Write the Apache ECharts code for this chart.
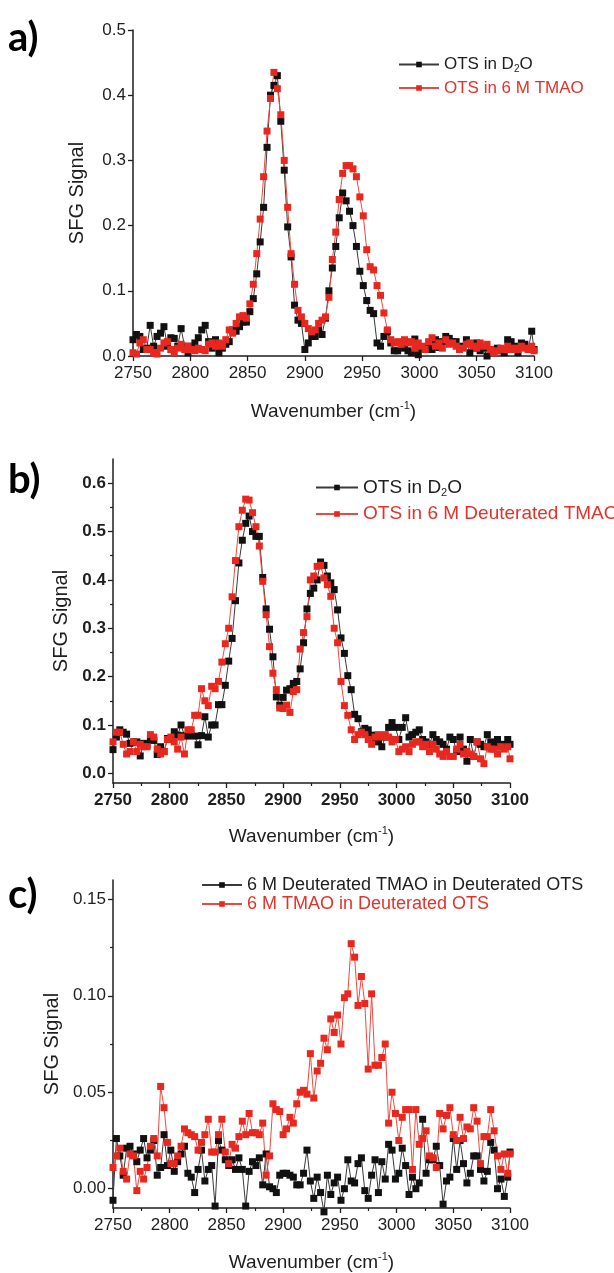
<!DOCTYPE html>
<html><head><meta charset="utf-8">
<script src="https://cdn.jsdelivr.net/npm/echarts@6/dist/echarts.min.js"></script>
<style>html,body{margin:0;padding:0;background:#fff}#c{width:614px;height:1273px}</style>
</head><body><div id="c"></div>
<script>
// ---------- data ----------
const wavenumbers = [
2750,2753,2756,2759,2762,2765,2768,2771,2774,2777,
2780,2783,2786,2789,2792,2795,2798,2801,2804,2807,
2810,2813,2816,2819,2822,2825,2828,2831,2834,2837,
2840,2843,2846,2849,2852,2855,2858,2861,2864,2867,
2870,2873,2876,2879,2882,2885,2888,2891,2894,2897,
2900,2903,2906,2909,2912,2915,2918,2921,2924,2927,
2930,2933,2936,2939,2942,2945,2948,2951,2954,2957,
2960,2963,2966,2969,2972,2975,2978,2981,2984,2987,
2990,2993,2996,2999,3002,3005,3008,3011,3014,3017,
3020,3023,3026,3029,3032,3035,3038,3041,3044,3047,
3050,3053,3056,3059,3062,3065,3068,3071,3074,3077,
3080,3083,3086,3089,3092,3095,3098,3100];

// panel a
const a_OTS_D2O = [
0.025,0.033,0.030,0.010,0.012,0.047,0.015,0.030,0.035,0.045,
0.015,0.028,0.027,0.015,0.042,0.015,0.005,0.015,0.020,0.028,
0.040,0.047,0.022,0.012,0.025,0.005,0.012,0.018,0.022,0.040,
0.038,0.045,0.052,0.052,0.068,0.088,0.126,0.175,0.228,0.320,
0.400,0.415,0.430,0.360,0.285,0.198,0.152,0.078,0.055,0.050,
0.010,0.020,0.030,0.030,0.040,0.033,0.058,0.100,0.135,0.168,
0.212,0.250,0.238,0.222,0.200,0.168,0.130,0.108,0.085,0.070,
0.065,0.020,0.015,0.030,0.037,0.020,0.008,0.008,0.020,0.012,
0.008,0.005,0.026,0.002,0.012,0.010,0.015,0.010,0.025,0.013,
0.022,0.030,0.027,0.022,0.022,0.010,0.015,0.025,0.005,0.012,
0.020,0.008,0.012,0.000,0.010,0.008,0.012,0.008,0.005,0.025,
0.022,0.015,0.005,0.020,0.018,0.010,0.038,0.010];
const a_OTS_TMAO = [
0.005,0.003,0.020,0.025,0.010,0.010,0.005,0.003,0.012,0.020,
0.022,0.010,0.005,0.012,0.018,0.010,0.015,0.010,0.008,0.012,
0.010,0.008,0.018,0.020,0.015,0.020,0.015,0.025,0.040,0.035,
0.050,0.060,0.062,0.058,0.080,0.110,0.157,0.210,0.275,0.345,
0.395,0.435,0.410,0.370,0.300,0.228,0.157,0.110,0.070,0.060,
0.050,0.042,0.037,0.040,0.050,0.055,0.060,0.090,0.148,0.190,
0.240,0.280,0.292,0.292,0.287,0.275,0.244,0.215,0.163,0.137,
0.132,0.108,0.093,0.066,0.040,0.025,0.020,0.022,0.018,0.025,
0.020,0.022,0.012,0.020,0.015,0.010,0.022,0.028,0.015,0.020,
0.012,0.025,0.018,0.020,0.015,0.010,0.012,0.018,0.020,0.015,
0.012,0.020,0.015,0.018,0.010,0.005,0.008,0.012,0.010,0.015,
0.010,0.012,0.010,0.015,0.012,0.010,0.015,0.008];

// panel b
const b_OTS_D2O = [
0.049,0.075,0.090,0.085,0.081,0.062,0.065,0.065,0.036,0.062,
0.058,0.070,0.068,0.039,0.055,0.045,0.072,0.070,0.086,0.079,
0.100,0.078,0.077,0.079,0.077,0.059,0.078,0.117,0.075,0.100,
0.100,0.142,0.142,0.182,0.232,0.279,0.357,0.435,0.482,0.517,
0.532,0.500,0.490,0.490,0.405,0.340,0.298,0.241,0.158,0.141,
0.157,0.172,0.175,0.186,0.190,0.216,0.270,0.340,0.372,0.383,
0.400,0.437,0.430,0.408,0.394,0.380,0.338,0.280,0.248,0.202,
0.173,0.122,0.113,0.086,0.093,0.090,0.079,0.072,0.065,0.055,
0.075,0.095,0.105,0.095,0.070,0.095,0.115,0.075,0.080,0.085,
0.090,0.070,0.065,0.060,0.080,0.070,0.065,0.060,0.050,0.075,
0.070,0.045,0.075,0.050,0.025,0.070,0.035,0.065,0.060,0.055,
0.080,0.065,0.060,0.070,0.055,0.060,0.070,0.060];
const b_OTS_dTMAO = [
0.065,0.085,0.085,0.060,0.040,0.045,0.065,0.045,0.060,0.055,
0.055,0.080,0.075,0.050,0.040,0.045,0.070,0.075,0.065,0.050,
0.075,0.040,0.090,0.090,0.120,0.120,0.175,0.150,0.140,0.180,
0.175,0.190,0.230,0.268,0.300,0.365,0.440,0.510,0.544,0.567,
0.565,0.539,0.510,0.470,0.397,0.328,0.262,0.207,0.173,0.135,
0.134,0.141,0.126,0.169,0.173,0.257,0.291,0.324,0.400,0.408,
0.428,0.430,0.404,0.390,0.366,0.300,0.270,0.190,0.140,0.120,
0.090,0.070,0.080,0.085,0.080,0.070,0.060,0.075,0.080,0.075,
0.080,0.075,0.065,0.070,0.045,0.050,0.055,0.045,0.060,0.065,
0.065,0.055,0.060,0.045,0.060,0.050,0.040,0.035,0.045,0.035,
0.035,0.050,0.060,0.040,0.045,0.040,0.035,0.065,0.030,0.020,
0.055,0.050,0.050,0.040,0.055,0.050,0.055,0.030];

// panel c
const c_dTMAO_dOTS = [
-0.006,0.026,0.017,0.007,0.021,0.022,0.018,0.014,0.020,0.026,
0.016,0.020,0.025,0.007,0.011,0.028,0.012,0.020,0.009,0.014,
0.018,0.022,0.008,0.006,-0.002,0.010,0.020,0.004,0.010,0.012,
-0.009,0.025,0.020,0.015,0.012,0.015,0.010,0.016,0.010,-0.009,
0.009,0.014,0.012,0.016,0.002,0.018,0.001,0.000,-0.002,0.007,
0.008,0.008,0.007,0.006,0.002,0.002,0.008,0.020,0.004,-0.005,
0.006,-0.002,-0.012,0.007,-0.003,0.003,0.006,-0.006,0.000,0.015,
0.004,0.003,0.013,0.016,-0.001,-0.005,0.007,0.015,-0.002,0.014,
0.005,0.023,0.020,0.005,0.008,0.021,0.012,-0.003,0.006,0.000,
0.003,0.036,0.008,0.015,0.015,0.022,0.012,-0.008,0.004,0.006,
0.026,0.010,0.025,0.013,0.003,0.008,0.017,0.017,0.010,0.004,
0.009,0.024,0.020,0.000,0.005,-0.004,0.006,0.019];
const c_TMAO_dOTS = [
0.011,0.017,0.021,0.009,0.005,0.018,0.017,-0.001,0.009,0.005,
0.011,0.022,0.026,0.017,0.053,0.042,0.024,0.013,0.013,0.017,
0.022,0.031,0.029,0.028,0.027,0.020,0.024,0.028,0.036,0.019,
0.019,0.028,0.036,0.019,0.013,0.023,0.021,0.027,0.035,0.028,
0.039,0.029,0.029,0.028,0.034,0.007,0.017,0.044,0.041,0.040,
0.028,0.031,0.037,0.034,0.044,0.050,0.051,0.049,0.070,0.047,
0.061,0.065,0.078,0.072,0.088,0.081,0.090,0.075,0.099,0.101,
0.127,0.120,0.095,0.110,0.096,0.062,0.101,0.064,0.064,0.068,
0.075,0.034,0.050,0.039,0.025,0.037,0.041,0.041,0.010,0.041,
0.023,0.026,0.030,0.017,0.016,0.011,0.039,0.031,0.038,0.042,
0.028,0.025,0.037,0.026,0.032,0.031,0.042,0.035,0.013,0.027,
0.027,0.041,0.030,0.017,0.010,0.018,0.008,0.018];

const yLabelsA = [0, 0.1, 0.2, 0.3, 0.4, 0.5];
const yLabelsB = [0, 0.1, 0.2, 0.3, 0.4, 0.5, 0.6];
const yMinorB  = [0.05, 0.15, 0.25, 0.35, 0.45, 0.55];
const yLabelsC = [0, 0.05, 0.10, 0.15];
const yMinorC  = [0.025, 0.075, 0.125];

// ---------- chart ----------
const FONT = '"Liberation Sans", Arial, sans-serif';
const INK = '#1e1e1e';
const BLACK = '#111111', BLACK_LINE = '#3a3a3a';
const RED = '#e8281f', RED_LINE = '#ec4a40';

function pairs(v) { return wavenumbers.map((x, i) => [x, v[i]]); }
function lineSeries(name, vals, color, lineColor, xi, yi) {
  return { type: 'line', name, data: pairs(vals), xAxisIndex: xi, yAxisIndex: yi,
    symbol: 'rect', symbolSize: 7, showSymbol: true, showAllSymbol: true, clip: false,
    animation: false, itemStyle: { color }, lineStyle: { color: lineColor, width: 1 },
    emphasis: { disabled: true } };
}
const nameRich = fs => ({
  n: { fontSize: fs, color: INK, fontFamily: FONT, lineHeight: fs + 4 },
  s: { fontSize: Math.round(fs * 0.6), color: INK, fontFamily: FONT, verticalAlign: 'top' }
});
function xAxisMain(gi, bold, minor, gap) {
  return { type: 'value', gridIndex: gi, min: 2750, max: 3100, interval: 50,
    axisLine: { show: true, onZero: false, lineStyle: { color: INK, width: 1.5 } },
    axisTick: { show: true, length: 5, lineStyle: { color: INK, width: 1.3 } },
    minorTick: { show: minor, splitNumber: 2, length: 3, lineStyle: { color: INK, width: 1.2 } },
    axisLabel: { color: INK, fontSize: 17, fontFamily: FONT, fontWeight: bold ? 'bold' : 'normal', margin: 9,
      formatter: v => String(Math.round(v)) },
    splitLine: { show: false }, minorSplitLine: { show: false },
    name: '{n|Wavenumber (cm}{s|-1}{n|)}', nameLocation: 'middle', nameGap: gap,
    nameTextStyle: { rich: nameRich(19) } };
}
function yAxisMain(gi, min, max, labels, dec, bold, gap) {
  return { type: 'value', gridIndex: gi, min, max, position: 'left',
    axisLine: { show: true, onZero: false, lineStyle: { color: INK, width: 1.5 } },
    axisTick: { show: true, length: 5, customValues: labels, lineStyle: { color: INK, width: 1.3 } },
    axisLabel: { color: INK, fontSize: 17, fontFamily: FONT, fontWeight: bold ? 'bold' : 'normal', margin: 7,
      customValues: labels, formatter: v => v.toFixed(dec) },
    splitLine: { show: false },
    name: 'SFG Signal', nameLocation: 'middle', nameGap: gap,
    nameTextStyle: { fontSize: 20, color: INK, fontFamily: FONT } };
}
function yAxisMinor(gi, min, max, ticks) {
  return { type: 'value', gridIndex: gi, min, max, position: 'left', offset: 0,
    axisLine: { show: false },
    axisTick: { show: true, length: 3, customValues: ticks, lineStyle: { color: INK, width: 1.2 } },
    axisLabel: { show: false, customValues: ticks },
    splitLine: { show: false } };
}

const legendText = {
  'aD2O': '{k|OTS in D}{ks|2}{k|O}',
  'aTMAO': '{r|OTS in 6 M TMAO}',
  'bD2O': '{k|OTS in D}{ks|2}{k|O}',
  'bTMAO': '{r|OTS in 6 M Deuterated TMAO}',
  'cD': '{k|6 M Deuterated TMAO in Deuterated OTS}',
  'cH': '{r|6 M TMAO in Deuterated OTS}'
};
const legendRich = fs => ({
  k: { color: INK, fontSize: fs, fontFamily: FONT, lineHeight: fs + 3 },
  ks: { color: INK, fontSize: Math.round(fs * 0.6), fontFamily: FONT, verticalAlign: 'bottom', lineHeight: fs + 3 },
  r: { color: '#e2332b', fontSize: fs, fontFamily: FONT, lineHeight: fs + 3 }
});
function legend(names, left, top, fs, gap, w) {
  return { data: names, left, top, orient: 'vertical', itemWidth: w, itemHeight: 7, itemGap: gap,
    selectedMode: false, formatter: n => legendText[n], textStyle: { rich: legendRich(fs) } };
}

const option = {
  backgroundColor: '#ffffff',
  animation: false,
  grid: [
    { left: 133, right: 614 - 534, top: 30, height: 326 },
    { left: 113, right: 614 - 510, top: 459, height: 324 },
    { left: 113, right: 614 - 510, top: 880, height: 330 }
  ],
  xAxis: [ xAxisMain(0, false, false, 44), xAxisMain(1, true, true, 42), xAxisMain(2, false, true, 43) ],
  yAxis: [
    yAxisMain(0, 0, 0.5, yLabelsA, 1, false, 46),
    yAxisMain(1, -0.02, 0.65, yLabelsB, 1, true, 40),
    yAxisMinor(1, -0.02, 0.65, yMinorB),
    yAxisMain(2, -0.01, 0.16, yLabelsC, 2, false, 50),
    yAxisMinor(2, -0.01, 0.16, yMinorC)
  ],
  legend: [
    legend(['aD2O', 'aTMAO'], 393, 51, 17, 5, 40),
    legend(['bD2O', 'bTMAO'], 310, 473, 19, 6, 42),
    legend(['cD', 'cH'], 196, 871, 18, 1, 40)
  ],
  series: [
    lineSeries('aD2O', a_OTS_D2O, BLACK, BLACK_LINE, 0, 0),
    lineSeries('aTMAO', a_OTS_TMAO, RED, RED_LINE, 0, 0),
    lineSeries('bD2O', b_OTS_D2O, BLACK, BLACK_LINE, 1, 1),
    lineSeries('bTMAO', b_OTS_dTMAO, RED, RED_LINE, 1, 1),
    lineSeries('cD', c_dTMAO_dOTS, BLACK, BLACK_LINE, 2, 3),
    lineSeries('cH', c_TMAO_dOTS, RED, RED_LINE, 2, 3)
  ],
  graphic: [
    { type: 'text', left: 8, top: 18, style: { text: 'a)', fontSize: 40, fontWeight: 'bold', fontFamily: 'Lato, "Open Sans", sans-serif', fill: '#000' } },
    { type: 'text', left: 8, top: 460, style: { text: 'b)', fontSize: 40, fontWeight: 'bold', fontFamily: 'Lato, "Open Sans", sans-serif', fill: '#000' } },
    { type: 'text', left: 8, top: 875, style: { text: 'c)', fontSize: 40, fontWeight: 'bold', fontFamily: 'Lato, "Open Sans", sans-serif', fill: '#000' } }
  ]
};
const chart = echarts.init(document.getElementById('c'), null, { renderer: 'canvas' });
chart.setOption(option);
</script>
</body></html>
